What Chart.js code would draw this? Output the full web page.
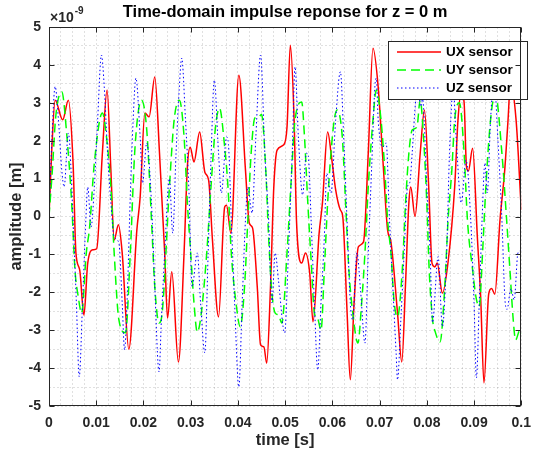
<!DOCTYPE html>
<html lang="en">
<head>
<meta charset="UTF-8">
<title>Time-domain impulse reponse for z = 0 m</title>
<script src="https://cdn.jsdelivr.net/npm/chart.js"></script>
<style>
  body { margin: 0; background: #fff; overflow: hidden; }
  canvas { display: block; }
</style>
</head>
<body>
<canvas id="impulseChart" width="540" height="456"></canvas>
<script>
// amplitudes are in units of 1e-9 m (axis shows the x10^-9 factor)
const uxTime = [0.0000, 0.0006, 0.0013, 0.0029, 0.0041, 0.0051, 0.0057, 0.0065, 0.0074, 0.0082,
  0.0093, 0.0101, 0.0113, 0.0123, 0.0131, 0.0138, 0.0147, 0.0155, 0.0169, 0.0186,
  0.0193, 0.0203, 0.0212, 0.0224, 0.0234, 0.0245, 0.0251, 0.0260, 0.0274, 0.0286,
  0.0293, 0.0299, 0.0307, 0.0319, 0.0330, 0.0338, 0.0346, 0.0359, 0.0372, 0.0376,
  0.0385, 0.0402, 0.0416, 0.0424, 0.0431, 0.0441, 0.0448, 0.0455, 0.0461, 0.0469,
  0.0476, 0.0483, 0.0497, 0.0504, 0.0511, 0.0519, 0.0524, 0.0535, 0.0543, 0.0552,
  0.0559, 0.0572, 0.0579, 0.0590, 0.0599, 0.0607, 0.0617, 0.0622, 0.0631, 0.0638,
  0.0646, 0.0655, 0.0666, 0.0676, 0.0686, 0.0697, 0.0707, 0.0717, 0.0724, 0.0738,
  0.0747, 0.0755, 0.0762, 0.0766, 0.0775, 0.0786, 0.0795, 0.0804, 0.0811, 0.0817,
  0.0822, 0.0833, 0.0845, 0.0859, 0.0866, 0.0873, 0.0879, 0.0884, 0.0888, 0.0897,
  0.0907, 0.0914, 0.0921, 0.0931, 0.0937, 0.0944, 0.0955, 0.0965, 0.0972, 0.0977,
  0.0989, 0.1000];
const uxValue = [0.00, 1.80, 3.07, 2.55, 3.07, 1.41, -0.96, -1.41, -2.60, -1.23,
  -0.88, -0.85, 1.67, 3.34, 1.23, -0.62, -0.22, -0.96, -3.50, -0.36,
  0.51, 2.73, 2.63, 3.68, 1.67, -0.96, -2.68, -1.46, -3.84, -0.96,
  1.31, 1.83, 1.44, 2.23, 1.17, 0.96, -0.60, -2.65, 0.25, 0.30,
  -0.44, 3.73, 1.23, -0.17, -0.30, -1.86, -3.39, -3.44, -3.87, -1.86,
  0.78, 1.75, 1.89, 2.36, 4.52, 2.55, -0.09, -1.23, -0.96, -1.49,
  -2.78, -0.44, 0.36, 2.23, 1.49, 0.70, 0.17, 0.00, -2.47, -4.31,
  -2.28, -0.80, -0.67, 1.67, 4.44, 3.42, 1.49, -0.36, -0.67, -2.55,
  -3.84, -1.75, 0.36, 0.78, 0.00, 1.67, 2.81, 0.78, -1.23, -1.33,
  -1.23, -2.02, -1.20, 0.78, 2.55, 3.30, 3.00, 1.31, 1.20, 1.80,
  -0.54, -2.12, -4.39, -2.05, -1.90, -2.05, -0.09, 1.23, 2.55, 3.52,
  2.55, 0.17];

const uyTime = [0.0000, 0.0007, 0.0014, 0.0027, 0.0038, 0.0048, 0.0055, 0.0062, 0.0069, 0.0079,
  0.0086, 0.0096, 0.0113, 0.0120, 0.0131, 0.0138, 0.0148, 0.0162, 0.0172, 0.0182,
  0.0196, 0.0207, 0.0217, 0.0224, 0.0233, 0.0240, 0.0255, 0.0265, 0.0276, 0.0286,
  0.0293, 0.0300, 0.0307, 0.0314, 0.0322, 0.0334, 0.0343, 0.0352, 0.0361, 0.0372,
  0.0379, 0.0386, 0.0396, 0.0405, 0.0414, 0.0421, 0.0428, 0.0436, 0.0445, 0.0450,
  0.0459, 0.0465, 0.0472, 0.0479, 0.0486, 0.0493, 0.0504, 0.0512, 0.0521, 0.0535,
  0.0541, 0.0548, 0.0555, 0.0562, 0.0569, 0.0576, 0.0583, 0.0590, 0.0597, 0.0604,
  0.0610, 0.0621, 0.0628, 0.0635, 0.0645, 0.0654, 0.0662, 0.0669, 0.0676, 0.0686,
  0.0693, 0.0703, 0.0711, 0.0717, 0.0724, 0.0731, 0.0738, 0.0748, 0.0755, 0.0762,
  0.0769, 0.0779, 0.0786, 0.0793, 0.0800, 0.0805, 0.0812, 0.0818, 0.0828, 0.0838,
  0.0845, 0.0853, 0.0859, 0.0869, 0.0879, 0.0886, 0.0897, 0.0904, 0.0911, 0.0918,
  0.0925, 0.0935, 0.0945, 0.0959, 0.0969, 0.0976, 0.0983, 0.0988, 0.0997, 0.1000];
const uyValue = [0.00, 1.20, 2.60, 3.29, 2.10, 0.36, -1.41, -2.12, -2.55, -0.96,
  -0.28, 1.41, 2.73, 2.28, 0.78, -0.96, -2.73, -3.07, -1.00, 1.80,
  3.07, 2.28, -0.09, -1.86, -2.81, -2.50, 0.78, 2.55, 3.07, 2.10,
  0.36, -0.96, -2.28, -3.05, -2.60, -0.96, 0.78, 2.30, 2.86, 1.83,
  0.78, -0.96, -2.28, -2.91, -1.86, -0.09, 1.67, 2.60, 2.63, 2.70,
  1.23, -0.54, -2.02, -2.55, -2.60, -2.81, -0.96, 0.78, 2.55, 3.02,
  2.10, 0.36, -1.15, -2.55, -2.70, -3.00, -1.41, 0.36, 1.67, 2.55,
  2.81, 2.10, 0.36, -1.41, -2.73, -3.34, -2.28, -0.96, 0.78, 2.55,
  3.34, 2.55, 1.23, -0.09, -0.96, -2.28, -2.65, -1.41, 0.36, 1.67,
  2.28, 2.36, 3.07, 2.10, 0.36, -1.40, -2.70, -3.05, -3.31, -1.86,
  -0.09, 1.23, 2.55, 3.00, 1.67, -0.09, -1.41, -2.12, -2.38, -0.96,
  0.78, 2.55, 3.25, 1.67, -0.09, -1.41, -2.73, -3.26, -3.00, -3.10];

const uzTime = [0.0000, 0.0006, 0.0013, 0.0020, 0.0027, 0.0032, 0.0041, 0.0051, 0.0058, 0.0064,
  0.0071, 0.0078, 0.0082, 0.0089, 0.0096, 0.0103, 0.0111, 0.0117, 0.0124, 0.0131,
  0.0138, 0.0148, 0.0155, 0.0160, 0.0166, 0.0172, 0.0178, 0.0184, 0.0193, 0.0198,
  0.0207, 0.0217, 0.0224, 0.0233, 0.0238, 0.0245, 0.0255, 0.0262, 0.0269, 0.0276,
  0.0281, 0.0289, 0.0296, 0.0303, 0.0314, 0.0321, 0.0330, 0.0337, 0.0343, 0.0350,
  0.0359, 0.0365, 0.0376, 0.0380, 0.0386, 0.0393, 0.0402, 0.0409, 0.0416, 0.0421,
  0.0430, 0.0438, 0.0448, 0.0457, 0.0465, 0.0472, 0.0479, 0.0486, 0.0499, 0.0507,
  0.0515, 0.0521, 0.0528, 0.0537, 0.0545, 0.0549, 0.0555, 0.0562, 0.0569, 0.0576,
  0.0583, 0.0588, 0.0597, 0.0607, 0.0617, 0.0624, 0.0631, 0.0638, 0.0643, 0.0652,
  0.0660, 0.0669, 0.0676, 0.0683, 0.0690, 0.0693, 0.0697, 0.0706, 0.0714, 0.0721,
  0.0728, 0.0735, 0.0738, 0.0745, 0.0752, 0.0759, 0.0764, 0.0769, 0.0776, 0.0782,
  0.0787, 0.0791, 0.0800, 0.0807, 0.0812, 0.0824, 0.0833, 0.0842, 0.0848, 0.0856,
  0.0862, 0.0873, 0.0883, 0.0893, 0.0900, 0.0905, 0.0911, 0.0917, 0.0923, 0.0928,
  0.0935, 0.0942, 0.0952, 0.0959, 0.0966, 0.0970, 0.0978, 0.0985, 0.0993, 0.1000];
const uzValue = [0.00, 2.00, 3.43, 2.55, 1.23, 0.78, 2.20, -0.09, -2.28, -4.23,
  -2.28, -0.09, 0.78, -0.28, 0.78, 2.55, 4.26, 3.42, 1.67, 0.36,
  -0.54, -0.70, -2.28, -3.52, -2.00, 0.50, 2.50, 3.65, 2.10, 0.88,
  1.94, 0.36, -1.86, -4.10, -2.73, -0.96, 1.00, -0.44, 1.67, 3.42,
  4.18, 2.55, 0.78, -1.86, -0.96, -2.28, -3.60, -0.96, 1.49, 3.60,
  1.67, 0.62, 2.10, 1.90, -0.09, -2.28, -4.50, -2.28, -0.09, 0.78,
  0.09, 2.10, 4.26, 1.67, -0.09, -2.28, -0.96, -1.70, -3.07, -0.96,
  1.67, 3.95, 2.10, 0.57, 1.67, 1.60, -0.09, -2.28, -4.05, -2.28,
  -0.54, 1.14, 0.62, 2.55, 3.82, 2.10, -0.09, -2.28, -2.73, -0.96,
  -2.00, -3.34, -0.96, 1.23, 3.42, 3.65, 2.55, 1.83, 1.94, -0.09,
  -1.86, -3.60, -4.31, -2.73, -0.96, 0.78, 0.90, 1.67, 2.99, 3.34,
  2.90, 3.10, 0.78, -0.96, -2.80, -1.06, -2.91, -0.96, 1.67, 3.40,
  2.10, 0.36, 1.49, -0.09, -2.28, -4.26, -2.28, -0.09, 1.41, 0.62,
  2.55, 3.60, 1.67, -0.09, -2.28, -2.45, -1.90, -2.20, -0.96, -0.90];

const seriesNames = ['UX sensor', 'UY sensor', 'UZ sensor'];
const xMajorTicks = [0, 0.01, 0.02, 0.03, 0.04, 0.05, 0.06, 0.07, 0.08, 0.09, 0.1];
const yMajorTicks = [-5, -4, -3, -2, -1, 0, 1, 2, 3, 4, 5];

const FONT = '"Liberation Sans", Arial, Helvetica, sans-serif';
const AXIS_COLOR = '#262626';

function toPoints(times, values) {
  return times.map((t, i) => ({ x: t, y: values[i] }));
}
function isMajor(v, list) {
  return list.some(m => Math.abs(m - v) < 1e-9);
}

// title, axis labels, inset legend, box with inward ticks (matlab look)
const decorations = {
  id: 'decorations',
  afterDraw(chart) {
    const { ctx, chartArea: a, scales: { x, y } } = chart;
    ctx.save();

    // legend
    const lx = 388, ly = 41, lw = 139, lh = 58;
    ctx.fillStyle = '#fff';
    ctx.fillRect(lx, ly, lw, lh);
    ctx.strokeStyle = AXIS_COLOR;
    ctx.lineWidth = 1;
    ctx.setLineDash([]);
    ctx.strokeRect(lx + 0.5, ly + 0.5, lw, lh);
    chart.data.datasets.forEach((ds, i) => {
      const ry = 52 + i * 18;
      ctx.strokeStyle = ds.borderColor;
      ctx.lineWidth = ds.borderWidth;
      ctx.setLineDash(ds.borderDash || []);
      ctx.beginPath();
      ctx.moveTo(397, ry);
      ctx.lineTo(441, ry);
      ctx.stroke();
      ctx.setLineDash([]);
      ctx.fillStyle = '#000';
      ctx.font = 'bold 13.5px ' + FONT;
      ctx.textAlign = 'left';
      ctx.textBaseline = 'middle';
      ctx.fillText(ds.label, 446, ry);
    });

    // axes box and ticks
    const L = Math.round(a.left) + 0.5, R = Math.round(a.right) - 0.5;
    const T = Math.round(a.top) + 0.5, B = Math.round(a.bottom) - 0.5;
    ctx.strokeStyle = AXIS_COLOR;
    ctx.lineWidth = 1;
    ctx.strokeRect(L, T, R - L, B - T);
    ctx.beginPath();
    xMajorTicks.forEach(t => {
      const px = Math.round(x.getPixelForValue(t)) + 0.5;
      ctx.moveTo(px, B); ctx.lineTo(px, B - 5);
      ctx.moveTo(px, T); ctx.lineTo(px, T + 5);
    });
    yMajorTicks.forEach(v => {
      const py = Math.round(y.getPixelForValue(v)) + 0.5;
      ctx.moveTo(L, py); ctx.lineTo(L + 5, py);
      ctx.moveTo(R, py); ctx.lineTo(R - 5, py);
    });
    ctx.stroke();

    // texts
    ctx.fillStyle = '#000';
    ctx.textAlign = 'center';
    ctx.textBaseline = 'middle';
    ctx.font = 'bold 16.5px ' + FONT;
    ctx.fillText('Time-domain impulse reponse for z = 0 m', (a.left + a.right) / 2, 12);
    ctx.fillStyle = AXIS_COLOR;
    ctx.fillText('time [s]', (a.left + a.right) / 2, 440);
    ctx.save();
    ctx.translate(16, (a.top + a.bottom) / 2);
    ctx.rotate(-Math.PI / 2);
    ctx.fillText('amplitude [m]', 0, 0);
    ctx.restore();

    // exponent label
    ctx.textAlign = 'left';
    ctx.textBaseline = 'alphabetic';
    ctx.font = 'bold 14px ' + FONT;
    ctx.fillText('\u00d710', 50, 22);
    const w = ctx.measureText('\u00d710').width;
    ctx.font = 'bold 10px ' + FONT;
    ctx.fillText('-9', 50 + w + 1, 14);

    ctx.restore();
  }
};

const gridColor = 'rgba(0,0,0,0.12)';

new Chart(document.getElementById('impulseChart'), {
  type: 'line',
  data: {
    datasets: [
      {
        label: seriesNames[0],
        data: toPoints(uxTime, uxValue),
        borderColor: '#ff0000',
        borderWidth: 1.5,
        order: 2
      },
      {
        label: seriesNames[1],
        data: toPoints(uyTime, uyValue),
        borderColor: '#00ff00',
        borderWidth: 1.5,
        borderDash: [9, 5],
        order: 1
      },
      {
        label: seriesNames[2],
        data: toPoints(uzTime, uzValue),
        borderColor: '#0000ff',
        borderWidth: 1,
        borderDash: [1.5, 2.5],
        order: 0
      }
    ]
  },
  options: {
    responsive: false,
    animation: false,
    devicePixelRatio: 1,
    layout: { padding: { top: 27, right: 10, left: 0, bottom: 0 } },
    elements: { point: { radius: 0 }, line: { cubicInterpolationMode: 'monotone' } },
    plugins: {
      legend: { display: false },
      tooltip: { enabled: false }
    },
    scales: {
      x: {
        type: 'linear',
        min: 0,
        max: 0.1,
        afterFit: s => { s.height = 50; },
        ticks: {
          stepSize: 0.0025,
          autoSkip: false,
          maxRotation: 0,
          padding: 9,
          color: AXIS_COLOR,
          font: { family: FONT, size: 14, weight: 'bold' },
          callback: v => isMajor(v, xMajorTicks) ? String(Math.round(v * 100) / 100) : ''
        },
        grid: { color: gridColor, drawTicks: false },
        border: { display: false, dash: [2, 2] }
      },
      y: {
        min: -5,
        max: 5,
        afterFit: s => { s.width = 49; },
        ticks: {
          stepSize: 0.5,
          autoSkip: false,
          padding: 8,
          color: AXIS_COLOR,
          font: { family: FONT, size: 14, weight: 'bold' },
          callback: v => isMajor(v, yMajorTicks) ? String(v) : ''
        },
        grid: { color: gridColor, drawTicks: false },
        border: { display: false, dash: [2, 2] }
      }
    }
  },
  plugins: [decorations]
});
</script>
</body>
</html>
